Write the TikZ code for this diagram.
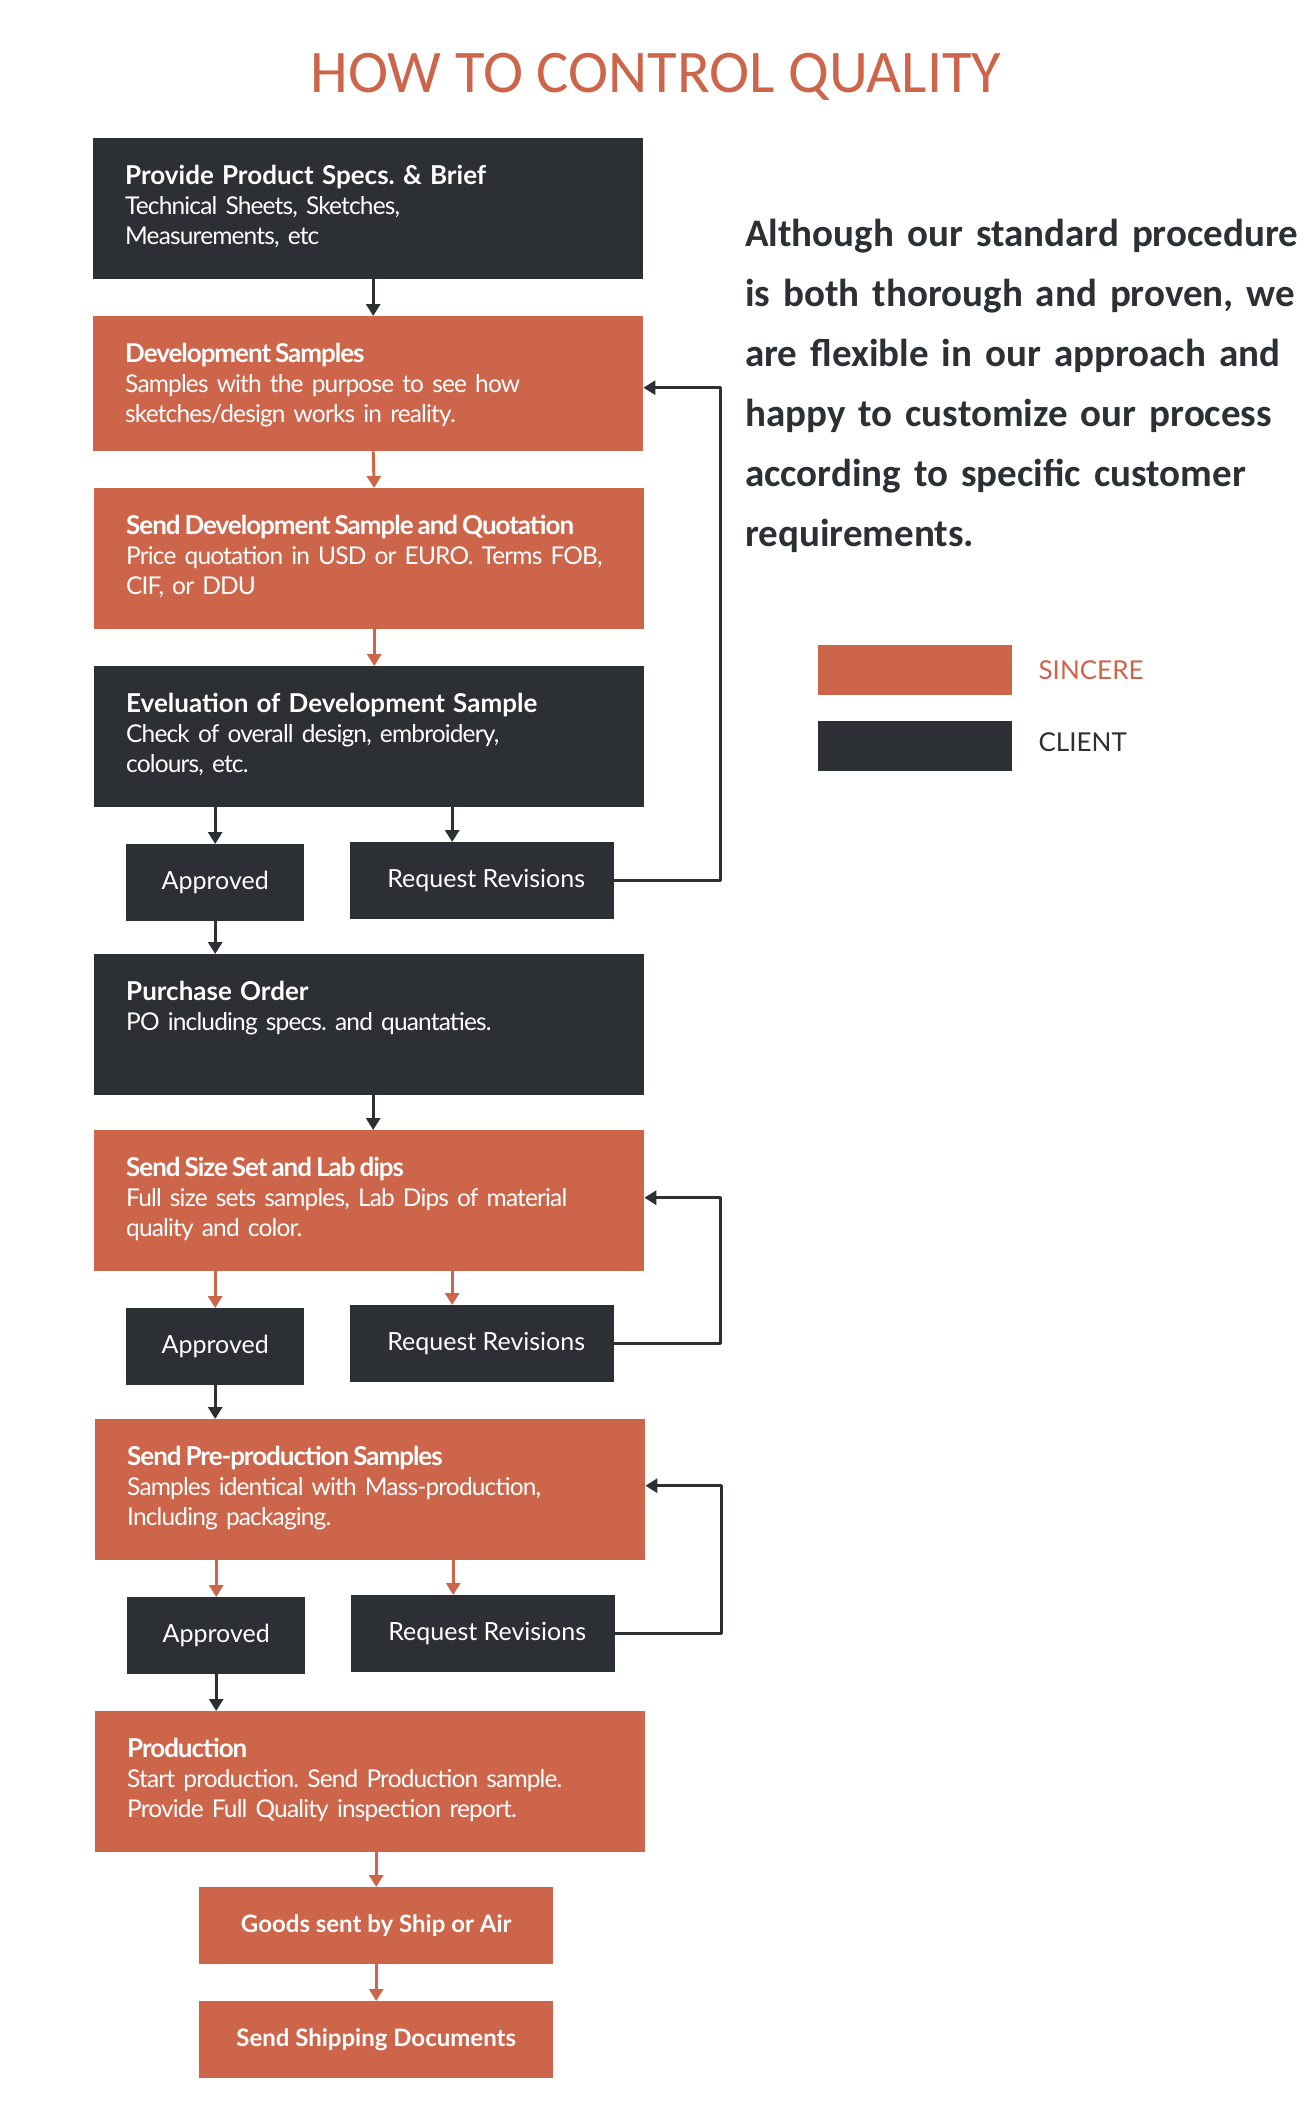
\documentclass[tikz,border=0pt]{standalone}
\usepackage{fontspec}
\setmainfont{Lato}
\newfontfamily\stagefont{Lato}[LetterSpace=-3.5]
\newfontfamily\warmfont{Lato}[LetterSpace=-4]
\newfontfamily\darkfont{Lato}[WordSpace=0.8]
\newfontfamily\calibri{Carlito}
\newcommand\tightspace{\spaceskip=4.5pt plus 1pt minus 1pt\relax}
\newcommand\warmhead[1]{{\warmfont\bfseries\fontsize{26}{30}\selectfont\spaceskip=4pt\relax #1}}
\newcommand\darkhead[1]{{\darkfont\bfseries\fontsize{26}{30}\selectfont #1}}
\usetikzlibrary{arrows.meta,positioning}
\definecolor{sincere}{HTML}{CD654B}
\definecolor{client}{HTML}{2C2F33}
\frenchspacing
\tikzset{
  stagebox/.style={anchor=north west, inner xsep=32pt, inner ysep=0pt, text width=486pt, align=left,
    text height=46pt, text depth=95pt, text=white,
    font=\stagefont\fontsize{24.5}{30}\selectfont\tightspace},
  sincerebox/.style={stagebox, fill=sincere},
  clientbox/.style={stagebox, fill=client},
  choicebox/.style={anchor=north west, inner sep=0pt, fill=client, text=white, minimum height=77pt,
    font=\fontsize{25}{30}\selectfont},
  okbox/.style={choicebox, minimum width=178pt},
  revbox/.style={choicebox, minimum width=264pt},
  shipbox/.style={anchor=north west, inner sep=0pt, fill=sincere, text=white, minimum width=354pt,
    minimum height=77pt, font=\fontsize{24}{30}\selectfont\bfseries},
  sincerearrow/.style={draw=sincere, line width=3pt, -{Triangle[width=14pt,length=12pt]}},
  clientarrow/.style={draw=client, line width=3pt, -{Triangle[width=14pt,length=12pt]}},
  swatch/.style={anchor=north west, inner sep=0pt, minimum width=194pt, minimum height=50pt},
  legendtext/.style={inner sep=0pt, font=\fontsize{26}{30}\selectfont}
}
\begin{document}
\begin{tikzpicture}[x=1pt, y=-1pt, line join=round]
\fill[white] (0,0) rectangle (1315,2103);
\useasboundingbox (0,0) rectangle (1315,2103);
% title
\node[anchor=base, inner sep=0pt, text=sincere, font=\calibri\fontsize{60.5}{61}\selectfont] (title) at (656,93) {HOW TO CONTROL QUALITY};
% main column
\node[clientbox] (brief) at (93,138) {\darkhead{Provide Product Specs. \& Brief}\\Technical Sheets, Sketches,\\Measurements, etc};
\node[sincerebox, text depth=89pt] (devsamp) at (93,316) {\warmhead{Development Samples}\\Samples with the purpose to see how\\sketches/design works in reality.};
\node[sincerebox] (quote) at (94,488) {\warmhead{Send Development Sample and Quotation}\\\mbox{Price quotation in USD or EURO. Terms FOB,}\\CIF, or DDU};
\node[clientbox] (eval) at (94,666) {\darkhead{Eveluation of Development Sample}\\Check of overall design, embroidery,\\colours, etc.};
\node[okbox] (ok1) at (126,844) {Approved};
\node[revbox] (rev1) at (350,842) {\hspace*{8pt}Request Revisions};
\node[clientbox] (po) at (94,954) {\darkhead{Purchase Order}\\PO including specs. and quantaties.};
\node[sincerebox] (sizeset) at (94,1130) {\warmhead{Send Size Set and Lab dips}\\Full size sets samples, Lab Dips of material\\quality and color.};
\node[okbox] (ok2) at (126,1308) {Approved};
\node[revbox] (rev2) at (350,1305) {\hspace*{8pt}Request Revisions};
\node[sincerebox] (preprod) at (95,1419) {\warmhead{Send Pre-production Samples}\\Samples identical with Mass-production,\\Including packaging.};
\node[okbox] (ok3) at (127,1597) {Approved};
\node[revbox] (rev3) at (351,1595) {\hspace*{8pt}Request Revisions};
\node[sincerebox] (prod) at (95,1711) {\warmhead{Production}\\Start production. Send Production sample.\\Provide Full Quality inspection report.};
\node[shipbox] (goods) at (199,1887) {Goods sent by Ship or Air};
\node[shipbox] (docs) at (199,2001) {Send Shipping Documents};
% entry points of the revision arrows
\coordinate (rev1in) at ([xshift=-30pt]rev1.north);
\coordinate (rev2in) at ([xshift=-30pt]rev2.north);
\coordinate (rev3in) at ([xshift=-30pt]rev3.north);
% flow
\draw[clientarrow] ([xshift=5pt]brief.south) -- ([xshift=5pt]devsamp.north);
\draw[sincerearrow] ([xshift=5pt]devsamp.south) -- ([xshift=5pt]quote.north);
\draw[sincerearrow] ([xshift=5pt]quote.south) -- ([xshift=5pt]eval.north);
\draw[clientarrow] (eval.south -| ok1.north) -- (ok1.north);
\draw[clientarrow] (eval.south -| rev1in) -- (rev1in);
\draw[clientarrow] (ok1.south) -- (po.north -| ok1.south);
\draw[clientarrow] ([xshift=4pt]po.south) -- ([xshift=4pt]sizeset.north);
\draw[sincerearrow] (sizeset.south -| ok2.north) -- (ok2.north);
\draw[sincerearrow] (sizeset.south -| rev2in) -- (rev2in);
\draw[clientarrow] (ok2.south) -- (preprod.north -| ok2.south);
\draw[sincerearrow] (preprod.south -| ok3.north) -- (ok3.north);
\draw[sincerearrow] (preprod.south -| rev3in) -- (rev3in);
\draw[clientarrow] (ok3.south) -- (prod.north -| ok3.south);
\draw[sincerearrow] (prod.south -| goods.north) -- (goods.north);
\draw[sincerearrow] (goods.south) -- (docs.north);
% revision loops
\draw[clientarrow] (rev1.east) -- ++(106,0) |- ([yshift=-4pt]devsamp.east);
\draw[clientarrow] (rev2.east) -- ++(106,0) |- ([yshift=3pt]sizeset.east);
\draw[clientarrow] (rev3.east) -- ++(106,0) |- ([yshift=4pt]preprod.east);
% note and legend
\node[anchor=base west, inner sep=0pt, text width=570pt, align=left, text=client,
  font=\calibri\bfseries\fontsize{39}{60}\selectfont] (note) at (745,246)
  {Although our standard procedure\\is both thorough and proven, we\\are flexible in our approach and\\happy to customize our process\\according to specific customer\\requirements.};
\node[swatch, fill=sincere] (sinceresw) at (818,645) {};
\node[swatch, fill=client] (clientsw) at (818,721) {};
\node[legendtext, text=sincere, right=26pt of sinceresw] (sincerelbl) {SINCERE};
\node[legendtext, text=client, right=26pt of clientsw, yshift=4pt] (clientlbl) {CLIENT};
\end{tikzpicture}
\end{document}
